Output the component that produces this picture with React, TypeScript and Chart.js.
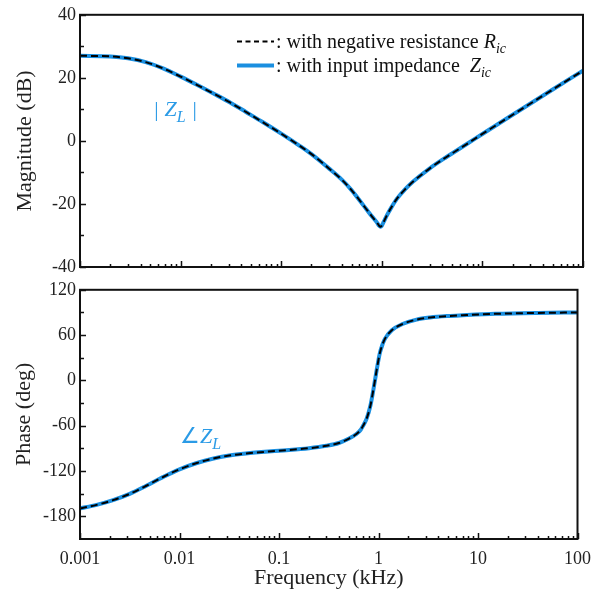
import React, { useEffect, useRef } from 'react';
import { Chart, registerables } from 'chart.js';

Chart.register(...registerables);

// ---------- data ----------
const magFreqKHz = [0.001, 0.002, 0.003, 0.0045, 0.0067, 0.01, 0.0145, 0.021, 0.031, 0.045, 0.066, 0.1, 0.15, 0.2, 0.3, 0.4, 0.5, 0.6, 0.7, 0.8, 0.9, 0.94, 0.97, 1.0, 1.04, 1.12, 1.25, 1.41, 1.7, 2.05, 3, 4.4, 7, 10, 20, 50, 100];
const magnitudeDb = [27.0, 26.8, 26.2, 25.0, 23.0, 20.4, 17.8, 15.1, 12.2, 9.1, 5.9, 2.3, -1.4, -4.2, -8.8, -12.3, -15.6, -18.8, -21.6, -24.0, -26.0, -26.9, -27.2, -26.9, -25.8, -23.7, -21.0, -18.4, -15.4, -12.9, -8.7, -5.1, -1.0, 2.2, 8.3, 16.3, 22.3];

const phaseFreqKHz = [0.001, 0.00147, 0.00215, 0.00316, 0.00464, 0.0068, 0.01, 0.0147, 0.0215, 0.0316, 0.0464, 0.1, 0.2, 0.3, 0.4, 0.5, 0.6, 0.66, 0.7, 0.76, 0.83, 0.89, 0.96, 1.03, 1.1, 1.16, 1.36, 1.77, 2.41, 3.3, 5, 7, 15, 40, 100];
const phaseDeg = [-169.5, -164.8, -158.5, -150.2, -139.5, -128.1, -117.7, -109.7, -103.7, -99.5, -96.8, -93.1, -89.8, -86.6, -82.9, -77.3, -71.0, -65.7, -60.0, -50.6, -33.3, -11.7, 14.2, 35.8, 48.0, 55.0, 66.5, 75.0, 80.5, 83.3, 85.3, 86.3, 88.2, 89.4, 90.0];

const xTickValues = [0.001, 0.01, 0.1, 1, 10, 100];
const xTickLabels = ['0.001', '0.01', '0.1', '1', '10', '100'];
const magTickValues = [40, 20, 0, -20, -40];
const magTickLabels = ['40', '20', '0', '-20', '-40'];
const magMinorTicks = [30, 10, -10, -30];
const phaseTickValues = [120, 60, 0, -60, -120, -180];
const phaseTickLabels = ['120', '60', '0', '-60', '-120', '-180'];
const phaseMinorTicks = [90, 30, -30, -90, -150];

const seriesNames = ['with negative resistance', 'with input impedance'];
const seriesSymbols = ['R', 'Z'];

const BLUE = '#1a8fe0';
const TEXT_BLUE = '#2b9be6';
const SERIF = '"Liberation Serif", "Times New Roman", serif';

type Part = { text: string; italic?: boolean; sub?: boolean };

function drawRich(ctx: CanvasRenderingContext2D, x: number, y: number, parts: Part[], size: number, color: string) {
  ctx.save();
  ctx.fillStyle = color;
  ctx.textAlign = 'left';
  ctx.textBaseline = 'alphabetic';
  let cx = x;
  for (const p of parts) {
    const s = p.sub ? Math.round(size * 0.72) : size;
    ctx.font = `${p.italic ? 'italic ' : ''}${s}px ${SERIF}`;
    ctx.fillText(p.text, cx, p.sub ? y + size * 0.25 : y);
    cx += ctx.measureText(p.text).width;
  }
  ctx.restore();
}

function makeDecor(opts: {
  majorY: number[];
  minorY: number[];
  yTitle: string;
  yTitleX: number;
  xTitle?: string;
  xTitleY?: number;
  extra?: (ctx: CanvasRenderingContext2D, chart: any) => void;
}) {
  return {
    id: 'decor',
    afterDraw(chart: any) {
      const { ctx, chartArea } = chart;
      const { left, right, top, bottom } = chartArea;
      const xs = chart.scales.x;
      const ys = chart.scales.y;
      ctx.save();
      ctx.strokeStyle = '#111';
      ctx.lineWidth = 1.5;
      ctx.beginPath();
      for (let i = 0; i < xTickValues.length; i++) {
        const v = xTickValues[i];
        const px = Math.round(xs.getPixelForValue(v)) + 0.5;
        ctx.moveTo(px, bottom);
        ctx.lineTo(px, bottom - 6);
        if (i < xTickValues.length - 1) {
          for (let m = 2; m <= 9; m++) {
            const mp = Math.round(xs.getPixelForValue(v * m)) + 0.5;
            ctx.moveTo(mp, bottom);
            ctx.lineTo(mp, bottom - 3);
          }
        }
      }
      for (const v of opts.majorY) {
        const py = Math.round(ys.getPixelForValue(v)) + 0.5;
        ctx.moveTo(left, py);
        ctx.lineTo(left + 6, py);
      }
      for (const v of opts.minorY) {
        const py = Math.round(ys.getPixelForValue(v)) + 0.5;
        ctx.moveTo(left, py);
        ctx.lineTo(left + 4, py);
      }
      ctx.stroke();
      ctx.lineWidth = 2;
      ctx.strokeRect(left, top, right - left, bottom - top);
      ctx.fillStyle = '#222';
      ctx.font = `22px ${SERIF}`;
      ctx.textAlign = 'center';
      ctx.textBaseline = 'middle';
      ctx.save();
      ctx.translate(opts.yTitleX, (top + bottom) / 2);
      ctx.rotate(-Math.PI / 2);
      ctx.fillText(opts.yTitle, 0, 0);
      ctx.restore();
      if (opts.xTitle) {
        ctx.fillText(opts.xTitle, (left + right) / 2, opts.xTitleY as number);
      }
      ctx.restore();
      if (opts.extra) opts.extra(ctx, chart);
    },
  };
}

// index 0 is drawn on top in Chart.js, so the dashed series comes first
function lineDatasets(xs: number[], ys: number[]) {
  return [
    {
      label: seriesNames[0],
      data: xs.map((x, i) => ({ x, y: ys[i] })),
      borderColor: '#000',
      borderWidth: 2,
      borderDash: [7, 4],
      pointRadius: 0,
      fill: false,
      cubicInterpolationMode: 'monotone' as const,
    },
    {
      label: seriesNames[1],
      data: xs.map((x, i) => ({ x, y: ys[i] })),
      borderColor: BLUE,
      borderWidth: 4,
      pointRadius: 0,
      fill: false,
      cubicInterpolationMode: 'monotone' as const,
    },
  ];
}

function xScale(showLabels: boolean, height: number, pad: number) {
  return {
    type: 'logarithmic' as const,
    min: 0.001,
    max: 100,
    grid: { display: false, drawTicks: false },
    border: { display: false },
    afterBuildTicks: (s: any) => {
      s.ticks = xTickValues.map((v) => ({ value: v }));
    },
    ticks: {
      display: showLabels,
      autoSkip: false,
      maxRotation: 0,
      padding: pad,
      color: '#222',
      font: { family: SERIF, size: 18 },
      callback: (v: any) => {
        const i = xTickValues.findIndex((t) => Math.abs(t - Number(v)) < 1e-9);
        return i >= 0 ? xTickLabels[i] : '';
      },
    },
    afterFit: (s: any) => {
      s.height = height;
    },
  };
}

function yScale(min: number, max: number, vals: number[], labels: string[]) {
  return {
    min,
    max,
    grid: { display: false, drawTicks: false },
    border: { display: false },
    afterBuildTicks: (s: any) => {
      s.ticks = vals.map((v) => ({ value: v }));
    },
    ticks: {
      autoSkip: false,
      padding: 4,
      color: '#222',
      font: { family: SERIF, size: 18 },
      callback: (v: any) => {
        const i = vals.indexOf(Number(v));
        return i >= 0 ? labels[i] : '';
      },
    },
    afterFit: (s: any) => {
      s.width = 80;
    },
  };
}

export default function App() {
  const topRef = useRef<HTMLCanvasElement>(null);
  const botRef = useRef<HTMLCanvasElement>(null);

  useEffect(() => {
    const top = new Chart(topRef.current as HTMLCanvasElement, {
      type: 'line',
      data: { datasets: lineDatasets(magFreqKHz, magnitudeDb) as any },
      options: {
        animation: false,
        responsive: false,
        maintainAspectRatio: false,
        layout: { padding: { top: 14, right: 17, left: 0, bottom: 0 } },
        plugins: { legend: { display: false }, tooltip: { enabled: false } },
        scales: {
          x: xScale(false, 23, 0) as any,
          y: yScale(-40, 40, magTickValues, magTickLabels) as any,
        },
      },
      plugins: [
        makeDecor({
          majorY: magTickValues,
          minorY: magMinorTicks,
          yTitle: 'Magnitude (dB)',
          yTitleX: 25,
          extra: (ctx) => {
            ctx.save();
            ctx.strokeStyle = '#000';
            ctx.lineWidth = 2;
            ctx.setLineDash([5, 3.5]);
            ctx.beginPath();
            ctx.moveTo(237, 41.5);
            ctx.lineTo(274, 41.5);
            ctx.stroke();
            ctx.setLineDash([]);
            ctx.strokeStyle = BLUE;
            ctx.lineWidth = 4;
            ctx.beginPath();
            ctx.moveTo(237, 65.5);
            ctx.lineTo(274, 65.5);
            ctx.stroke();
            ctx.restore();
            drawRich(ctx, 276, 47.5, [
              { text: ': ' + seriesNames[0] + ' ' },
              { text: seriesSymbols[0], italic: true },
              { text: 'ic', italic: true, sub: true },
            ], 20, '#111');
            drawRich(ctx, 276, 71.5, [
              { text: ': ' + seriesNames[1] + '  ' },
              { text: seriesSymbols[1], italic: true },
              { text: 'ic', italic: true, sub: true },
            ], 20, '#111');
            drawRich(ctx, 153, 116, [
              { text: '| ', italic: true },
              { text: 'Z', italic: true },
              { text: 'L', italic: true, sub: true },
              { text: ' |', italic: true },
            ], 22, TEXT_BLUE);
          },
        }),
      ],
    });

    const bot = new Chart(botRef.current as HTMLCanvasElement, {
      type: 'line',
      data: { datasets: lineDatasets(phaseFreqKHz, phaseDeg) as any },
      options: {
        animation: false,
        responsive: false,
        maintainAspectRatio: false,
        layout: { padding: { top: 12, right: 17, left: 0, bottom: 0 } },
        plugins: { legend: { display: false }, tooltip: { enabled: false } },
        scales: {
          x: xScale(true, 52, 9) as any,
          y: yScale(-210, 120, phaseTickValues, phaseTickLabels) as any,
        },
      },
      plugins: [
        makeDecor({
          majorY: phaseTickValues,
          minorY: phaseMinorTicks,
          yTitle: 'Phase (deg)',
          yTitleX: 24,
          xTitle: 'Frequency (kHz)',
          xTitleY: 303,
          extra: (ctx) => {
            drawRich(ctx, 180, 168, [
              { text: '\u2220' },
              { text: 'Z', italic: true },
              { text: 'L', italic: true, sub: true },
            ], 22, TEXT_BLUE);
          },
        }),
      ],
    });

    return () => {
      top.destroy();
      bot.destroy();
    };
  }, []);

  return (
    <div style={{ position: 'absolute', left: 0, top: 0, width: 600, height: 591, background: '#fff' }}>
      <canvas ref={botRef} width={600} height={316} style={{ position: 'absolute', left: 0, top: 275, display: 'block' }} />
      <canvas ref={topRef} width={600} height={290} style={{ position: 'absolute', left: 0, top: 0, display: 'block' }} />
    </div>
  );
}
